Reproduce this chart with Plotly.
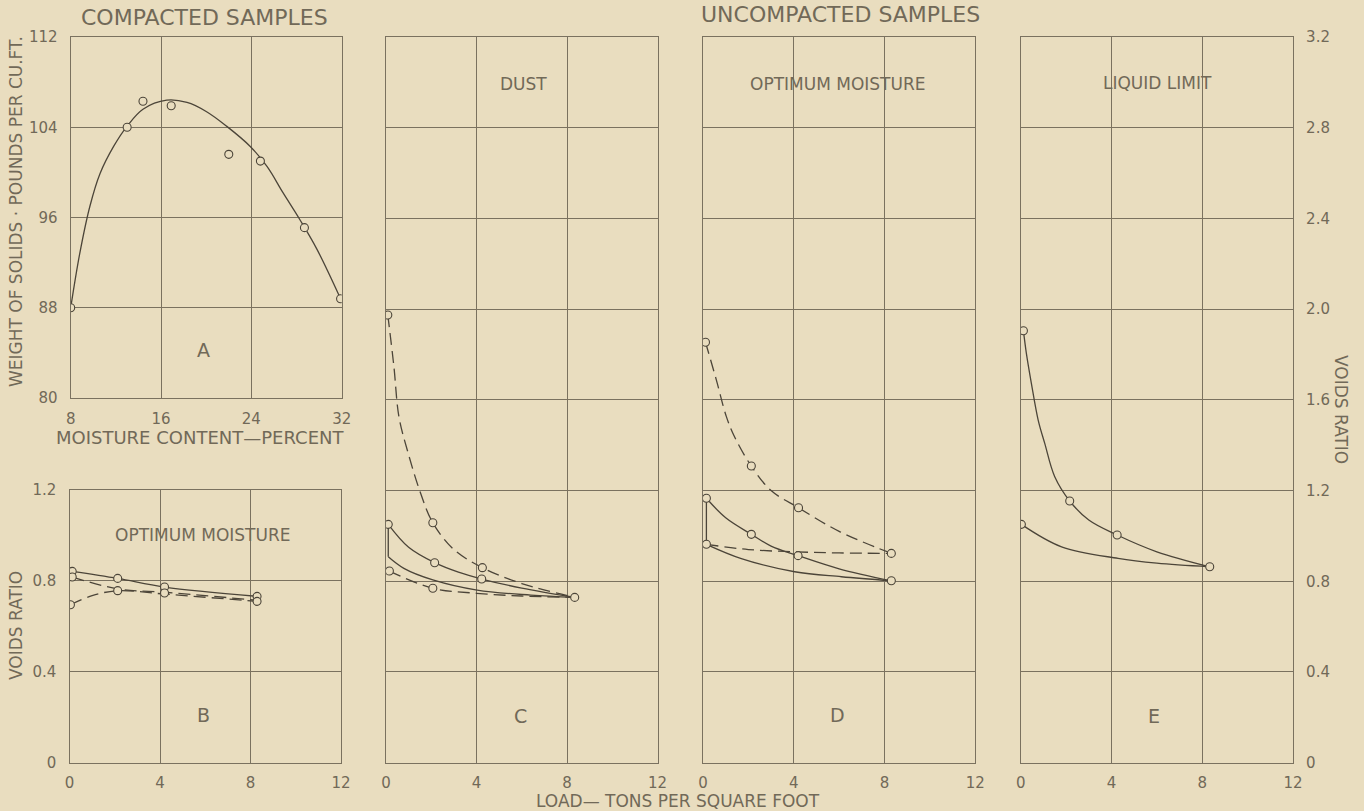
import plotly.graph_objects as go

# ---------------- data ----------------
# Panel A - compacted samples: dry weight vs moisture content
A_pts_moist = [8.0, 13.0, 14.4, 16.9, 22.0, 24.8, 28.7, 31.9]
A_pts_weight = [88.0, 104.0, 106.3, 105.9, 101.6, 101.0, 95.1, 88.8]
A_curve_moist = [8.0, 8.8, 9.7, 10.6, 11.8, 13.0, 14.4, 16.5, 18.3, 20.0, 21.8, 23.9, 25.4, 26.8, 28.3, 29.8, 31.9]
A_curve_weight = [88.0, 92.8, 97.0, 99.9, 102.3, 104.1, 105.6, 106.4, 106.2, 105.4, 104.1, 102.3, 100.5, 98.2, 95.8, 93.2, 88.8]

# Panel B - compacted, optimum moisture
B_solid_load = [0.12, 2.13, 4.2, 8.29]
B_solid_void = [0.842, 0.811, 0.773, 0.732]
B_dash1_load = [0.12, 2.13, 4.2, 8.29]
B_dash1_void = [0.817, 0.765, 0.75, 0.715]
B_dash2_load = [0.04, 1.0, 2.13, 4.2, 8.29]
B_dash2_void = [0.695, 0.735, 0.757, 0.742, 0.71]
B_pts_load = [0.12, 0.12, 0.04, 2.13, 2.13, 4.2, 4.2, 8.29, 8.29]
B_pts_void = [0.842, 0.817, 0.695, 0.811, 0.757, 0.773, 0.747, 0.732, 0.71]

# Panel C - uncompacted, dust
C_dashU_load = [0.08, 0.35, 0.57, 0.94, 1.53, 2.07, 3.0, 4.26, 6.0, 8.34]
C_dashU_void = [1.974, 1.746, 1.526, 1.379, 1.188, 1.058, 0.94, 0.86, 0.79, 0.729]
C_solidU_load = [0.1, 1.0, 2.15, 3.2, 4.23, 6.0, 8.34]
C_solidU_void = [1.051, 0.95, 0.882, 0.84, 0.81, 0.77, 0.729]
C_vert_load = [0.1, 0.1]
C_vert_void = [1.051, 0.908]
C_solidL_load = [0.1, 0.79, 2.07, 4.03, 6.4, 8.34]
C_solidL_void = [0.908, 0.857, 0.806, 0.761, 0.739, 0.729]
C_dashL_load = [0.15, 2.07, 4.0, 6.0, 8.34]
C_dashL_void = [0.845, 0.769, 0.747, 0.735, 0.729]
C_pts_load = [0.08, 0.1, 0.15, 2.07, 2.15, 2.07, 4.26, 4.23, 8.34]
C_pts_void = [1.974, 1.051, 0.845, 1.058, 0.882, 0.769, 0.86, 0.81, 0.729]

# Panel D - uncompacted, optimum moisture
D_dashU_load = [0.11, 0.59, 1.03, 1.39, 2.13, 3.0, 4.21, 6.0, 8.3]
D_dashU_void = [1.854, 1.687, 1.526, 1.437, 1.308, 1.2, 1.124, 1.02, 0.923]
D_solidU_load = [0.15, 1.0, 2.13, 3.0, 4.19, 6.0, 8.3]
D_solidU_void = [1.166, 1.08, 1.007, 0.955, 0.913, 0.855, 0.802]
D_vert_load = [0.15, 0.15]
D_vert_void = [1.166, 0.963]
D_dashL_load = [0.15, 2.0, 4.0, 6.0, 8.3]
D_dashL_void = [0.963, 0.94, 0.93, 0.925, 0.923]
D_solidL_load = [0.15, 1.69, 4.04, 6.1, 8.3]
D_solidL_void = [0.963, 0.9, 0.842, 0.82, 0.802]
D_pts_load = [0.11, 0.15, 0.15, 2.13, 2.13, 4.21, 4.19, 8.3, 8.3]
D_pts_void = [1.854, 1.166, 0.963, 1.308, 1.007, 1.124, 0.913, 0.923, 0.802]

# Panel E - uncompacted, liquid limit
E_solidU_load = [0.12, 0.25, 0.47, 0.77, 1.06, 1.5, 2.16, 3.0, 4.25, 6.0, 8.33]
E_solidU_void = [1.905, 1.805, 1.673, 1.511, 1.408, 1.261, 1.154, 1.07, 1.004, 0.93, 0.864]
E_solidL_load = [0.03, 1.8, 4.29, 6.0, 8.33]
E_solidL_void = [1.051, 0.952, 0.901, 0.88, 0.864]
E_pts_load = [0.12, 0.03, 2.16, 4.25, 8.33]
E_pts_void = [1.905, 1.051, 1.154, 1.004, 0.864]

# tick labels
A_xticks = [8, 16, 24, 32]
A_yticks = [80, 88, 96, 104, 112]
load_ticks = [0, 4, 8, 12]
B_yticks = [0, 0.4, 0.8, 1.2]
B_yticktext = ["0", "0.4", "0.8", "1.2"]
R_yticks = [0, 0.4, 0.8, 1.2, 1.6, 2.0, 2.4, 2.8, 3.2]
R_yticktext = ["0", "0.4", "0.8", "1.2", "1.6", "2.0", "2.4", "2.8", "3.2"]

# ---------------- style ----------------
W, H = 1364, 811
BG = "#e9ddbf"
INK = "#4c4539"
TXT = "#716958"
GRID = "#7a715f"
FONT = "DejaVu Sans"

def fx(px):
    return px / W

def fy(py):
    return 1 - py / H

fig = go.Figure()

def line(x, y, ax, dash=None, shape="spline"):
    fig.add_trace(go.Scatter(
        x=x, y=y, mode="lines", xaxis="x" + ax, yaxis="y" + ax,
        line=dict(color=INK, width=1.3, dash=dash or "solid", shape=shape, smoothing=1.0),
        hoverinfo="skip", showlegend=False))

def pts(x, y, ax):
    fig.add_trace(go.Scatter(
        x=x, y=y, mode="markers", xaxis="x" + ax, yaxis="y" + ax,
        marker=dict(symbol="circle", size=8, color=BG, line=dict(color=INK, width=1.1)),
        hoverinfo="skip", showlegend=False))

DASH = "12px,6px"

# A
line(A_curve_moist, A_curve_weight, "")
pts(A_pts_moist, A_pts_weight, "")
# B
line(B_solid_load, B_solid_void, "2")
line(B_dash1_load, B_dash1_void, "2", DASH)
line(B_dash2_load, B_dash2_void, "2", DASH)
pts(B_pts_load, B_pts_void, "2")
# C
line(C_dashU_load, C_dashU_void, "3", DASH)
line(C_solidU_load, C_solidU_void, "3")
line(C_vert_load, C_vert_void, "3", shape="linear")
line(C_solidL_load, C_solidL_void, "3")
line(C_dashL_load, C_dashL_void, "3", DASH)
pts(C_pts_load, C_pts_void, "3")
# D
line(D_dashU_load, D_dashU_void, "4", DASH)
line(D_solidU_load, D_solidU_void, "4")
line(D_vert_load, D_vert_void, "4", shape="linear")
line(D_dashL_load, D_dashL_void, "4", DASH)
line(D_solidL_load, D_solidL_void, "4")
pts(D_pts_load, D_pts_void, "4")
# E
line(E_solidU_load, E_solidU_void, "5")
line(E_solidL_load, E_solidL_void, "5")
pts(E_pts_load, E_pts_void, "5")

tickfont = dict(family=FONT, size=15, color=TXT)

def xax(dom, rng, vals, anchor, show=True, standoff=6):
    return dict(domain=[fx(dom[0]), fx(dom[1])], range=rng, anchor=anchor,
                tickvals=vals, ticktext=[str(v) for v in vals], showticklabels=show,
                showgrid=True, gridcolor=GRID, gridwidth=1, zeroline=False,
                showline=True, linecolor=GRID, linewidth=1.2, mirror=True,
                ticks="", ticklabelstandoff=standoff, tickfont=tickfont, fixedrange=True,
                automargin=False)

def yax(dom, rng, vals, text, anchor, show=True, side="left"):
    return dict(domain=[fy(dom[1]), fy(dom[0])], range=rng, anchor=anchor, side=side,
                tickvals=vals, ticktext=text, showticklabels=show,
                showgrid=True, gridcolor=GRID, gridwidth=1, zeroline=False,
                showline=True, linecolor=GRID, linewidth=1.2, mirror=True,
                ticks="", ticklabelstandoff=9, tickfont=tickfont, fixedrange=True,
                automargin=False)

TOP, BOT = 37, 762.7
layout = dict(
    width=W, height=H, paper_bgcolor=BG, plot_bgcolor=BG,
    margin=dict(l=0, r=0, t=0, b=0, pad=0, autoexpand=False), showlegend=False,
    font=dict(family=FONT, color=TXT),
    xaxis=xax((70.7, 341.7), [8, 32], A_xticks, "y", standoff=7),
    yaxis=yax((TOP, 398), [80, 112], A_yticks, [str(v) for v in A_yticks], "x"),
    xaxis2=xax((69.5, 341), [0, 12], load_ticks, "y2"),
    yaxis2=yax((490, BOT), [0, 1.2], B_yticks, B_yticktext, "x2"),
    xaxis3=xax((386, 657.5), [0, 12], load_ticks, "y3"),
    yaxis3=yax((TOP, BOT), [0, 3.2], R_yticks, R_yticktext, "x3", show=False),
    xaxis4=xax((703, 975.3), [0, 12], load_ticks, "y4"),
    yaxis4=yax((TOP, BOT), [0, 3.2], R_yticks, R_yticktext, "x4", show=False),
    xaxis5=xax((1020.7, 1293), [0, 12], load_ticks, "y5"),
    yaxis5=yax((TOP, BOT), [0, 3.2], R_yticks, R_yticktext, "x5", side="right"),
)
fig.update_layout(**layout)

def ann(text, x, y, size, angle=0):
    fig.add_annotation(text=text, x=fx(x), y=fy(y), xref="paper", yref="paper",
                       showarrow=False, textangle=angle, xanchor="center", yanchor="middle",
                       font=dict(family=FONT, size=size, color=TXT))

ann("COMPACTED SAMPLES", 204, 17, 22)
ann("UNCOMPACTED SAMPLES", 840, 15, 22)
ann("MOISTURE CONTENT—PERCENT", 200, 437, 18)
ann("LOAD— TONS PER SQUARE FOOT", 678, 801, 17)
ann("WEIGHT OF SOLIDS · POUNDS PER CU.FT.", 16, 212, 17, -90)
ann("VOIDS RATIO", 16, 626, 17, -90)
ann("VOIDS RATIO", 1341, 409, 17, 90)
ann("A", 203, 350, 19)
ann("B", 203, 715, 19)
ann("C", 520, 716, 19)
ann("D", 837, 715, 19)
ann("E", 1154, 716, 19)
ann("OPTIMUM MOISTURE", 202, 535, 17)
ann("DUST", 523, 84, 17)
ann("OPTIMUM MOISTURE", 837, 84, 17)
ann("LIQUID LIMIT", 1157, 83, 17)

# remove the page's default body margin so the figure sits at the window's corner
fig.write_html("out.html", config={"displayModeBar": False},
               post_script="document.body.style.margin='0px';"
               "document.body.style.background='" + BG + "';")
